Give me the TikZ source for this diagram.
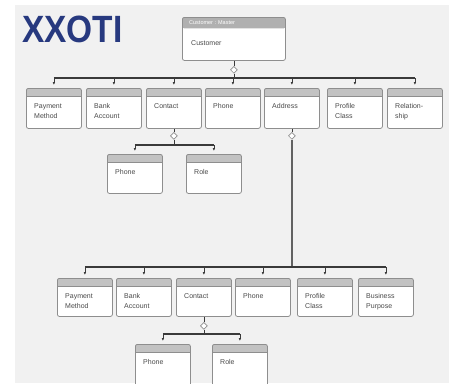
\documentclass[tikz,border=0pt]{standalone}
\usepackage{fontspec}
\setmainfont{Liberation Sans}
\usetikzlibrary{arrows.meta,shapes.geometric}
\definecolor{bg}{HTML}{F1F1F1}
\definecolor{hdr}{HTML}{C2C2C2}
\definecolor{hdrdark}{HTML}{B0B0B0}
\definecolor{bord}{HTML}{8E8E8E}
\definecolor{ln}{HTML}{3A3A3A}
\definecolor{thick}{HTML}{626262}
\definecolor{ttl}{HTML}{27397F}
\definecolor{txt}{HTML}{4A4A4A}
\tikzset{
  ebox/.style={draw=bord, line width=0.8pt, fill=white, rounded corners=2pt,
    anchor=north west, inner sep=0pt,
    path picture={\fill[#1] (path picture bounding box.north west) rectangle ([yshift=-8pt]path picture bounding box.north east);
      \draw[bord, line width=0.5pt] ([yshift=-8pt]path picture bounding box.north west) -- ([yshift=-8pt]path picture bounding box.north east);}},
  ebox/.default=hdr,
  etext/.style={anchor=north west, inner sep=0pt, align=left, text=txt,
    font=\fontsize{7}{10.5}\selectfont},
  agg/.style={diamond, draw=bord, fill=white, inner sep=0pt, minimum size=7pt, line width=0.7pt},
  bus/.style={draw=ln, line width=1.3pt},
  link/.style={draw=ln, line width=0.7pt},
  drop/.style={draw=ln, line width=0.6pt, -{Latex[length=3pt,width=2.6pt]}, shorten >=3pt},
  trunk/.style={draw=thick, line width=2.5pt}
}
\newcommand\entbox[6]{%
  \node[ebox, minimum width=#4pt, minimum height=#5pt] (#1) at (#2,#3) {};
  \node[etext] (#1-t) at ([xshift=8pt,yshift=-15pt]#1.north west) {#6};}
\begin{document}
\begin{tikzpicture}[x=1pt,y=-1pt]
\useasboundingbox (0,0) rectangle (449,383);
\clip (0,0) rectangle (449,383);
\fill[white] (0,0) rectangle (449,383);
\fill[bg] (15,5) rectangle (449,383);
% title
\node[font=\bfseries\fontsize{38}{38}\selectfont, text=ttl, anchor=north west, inner sep=0pt,
  xscale=0.88, transform shape] (title) at (22,16) {XXOTI};
% customer
\node[draw=bord, line width=0.8pt, fill=white, rounded corners=2pt, anchor=north west, inner sep=0pt,
  minimum width=103pt, minimum height=43pt,
  path picture={\fill[hdrdark] (path picture bounding box.north west) rectangle ([yshift=-11pt]path picture bounding box.north east);}]
  (cust) at (182,17) {};
\node[font=\fontsize{5.5}{6}\selectfont, text=white, anchor=west, inner sep=0pt] (cust-h) at ([xshift=7pt,yshift=-5.5pt]cust.north west) {Customer : Master};
\node[etext] (cust-t) at ([xshift=9pt,yshift=-23pt]cust.north west) {Customer};
% row 1
\entbox{pm}{26}{88}{55}{40}{Payment\\Method}
\entbox{ba}{86}{88}{55}{40}{Bank\\Account}
\entbox{con}{146}{88}{55}{40}{Contact}
\entbox{ph}{205}{88}{55}{40}{Phone}
\entbox{addr}{264}{88}{55}{40}{Address}
\entbox{pc}{327}{88}{55}{40}{Profile\\Class}
\entbox{rel}{387}{88}{55}{40}{Relation-\\ship}
% contact children
\entbox{cph}{107}{154}{55}{39}{Phone}
\entbox{crole}{186}{154}{55}{39}{Role}
% row 3
\entbox{pm2}{57}{278}{55}{38}{Payment\\Method}
\entbox{ba2}{116}{278}{55}{38}{Bank\\Account}
\entbox{con2}{176}{278}{55}{38}{Contact}
\entbox{ph2}{235}{278}{55}{38}{Phone}
\entbox{pc2}{297}{278}{55}{38}{Profile\\Class}
\entbox{bp2}{358}{278}{55}{38}{Business\\Purpose}
% row 4
\entbox{cph2}{135}{344}{55}{45}{Phone}
\entbox{crole2}{212}{344}{55}{45}{Role}
% aggregation symbols
\node[agg] (a0) at ([yshift=-9pt]cust.south) {};
\node[agg] (a1) at ([yshift=-7pt]con.south) {};
\node[agg] (a2) at ([yshift=-7pt]addr.south) {};
\node[agg] (a3) at ([yshift=-9pt]con2.south) {};
% bus levels
\coordinate (y1) at (0,78);
\coordinate (y2) at (0,145);
\coordinate (y3) at (0,267);
\coordinate (y4) at (0,334);
% customer tree
\draw[link] (cust.south) -- (a0.north);
\draw[link] (a0.south) -- (a0 |- y1);
\draw[bus] (pm |- y1) -- (rel |- y1);
\foreach \n in {pm,ba,con,ph,addr,pc,rel} \draw[drop] (\n |- y1) -- (\n.north);
% contact tree
\draw[link] (con.south) -- (a1.north);
\draw[link] (a1.south) -- (a1 |- y2);
\draw[bus] (cph |- y2) -- (crole |- y2);
\foreach \n in {cph,crole} \draw[drop] (\n |- y2) -- (\n.north);
% address tree
\draw[link] (addr.south) -- (a2.north);
\draw[trunk] (a2.south) -- (a2 |- y3);
\draw[bus] (pm2 |- y3) -- (bp2 |- y3);
\foreach \n in {pm2,ba2,con2,ph2,pc2,bp2} \draw[drop] (\n |- y3) -- (\n.north);
% contact 2 tree
\draw[link] (con2.south) -- (a3.north);
\draw[link] (a3.south) -- (a3 |- y4);
\draw[bus] (cph2 |- y4) -- (crole2 |- y4);
\foreach \n in {cph2,crole2} \draw[drop] (\n |- y4) -- (\n.north);
\end{tikzpicture}
\end{document}
